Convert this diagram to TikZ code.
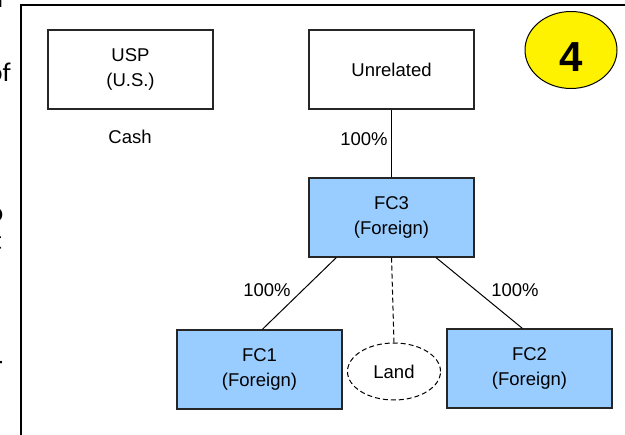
\documentclass[tikz,border=0pt]{standalone}
\usepackage{fontspec}
\setmainfont{Liberation Sans}
\newfontfamily\slidefont{Carlito}
\usetikzlibrary{shapes.geometric}

\begin{document}
\begin{tikzpicture}[x=1pt, y=-1pt]
    % Styles
    \tikzstyle{entity}=[draw=black!85, line width=1.2pt, minimum width=165pt, minimum height=79pt, inner sep=0pt, align=center, font=\fontsize{18.5}{25}\selectfont]
    \tikzstyle{foreign}=[entity, fill=fcblue]
    \tikzstyle{asset}=[draw, dash pattern=on 5pt off 3pt, line width=1pt, ellipse, minimum width=93pt, minimum height=57pt, inner sep=0pt, font=\fontsize{18.5}{25}\selectfont]
    \tikzstyle{pct}=[font=\fontsize{18.5}{25}\selectfont]
    \tikzstyle{ownership}=[line width=1pt]
    \tikzstyle{holding}=[line width=1pt, dash pattern=on 5pt off 3pt]
    \tikzstyle{stepbadge}=[draw, line width=1pt, ellipse, fill=yellow, minimum width=92pt, minimum height=77pt, inner sep=0pt, text height=44pt, text depth=0pt, font=\fontsize{42}{42}\selectfont\bfseries]
    \tikzstyle{cutoff}=[anchor=base east, inner sep=0pt, font=\fontsize{27}{27}\slidefont]
    \definecolor{fcblue}{HTML}{99CCFF}

    \useasboundingbox (0,0) rectangle (625,435);

    % Slide text cut off at the left
    \node[cutoff] (frag_r) at (7,8) {r};
    \node[cutoff] (frag_of) at (11,82) {of};
    \node[cutoff] (frag_o) at (3.5,222) {o};
    \node[cutoff] (frag_t) at (2,250) {t};
    \node[cutoff] (frag_rr) at (3,375) {r};

    % Frame
    \draw[line width=2.5pt] (21,5) rectangle (640,450);

    % Entities
    \node[entity] (usp) at (130.5,69.5) {USP\\(U.S.)};
    \node[pct] (cash) at (130,137) {Cash};
    \node[entity] (unrelated) at (391.5,69.5) {Unrelated};
    \node[foreign] (fc3) at (391.5,217.5) {FC3\\(Foreign)};
    \node[foreign] (fc1) at (259.5,369.5) {FC1\\(Foreign)};
    \node[foreign] (fc2) at (529.5,368.5) {FC2\\(Foreign)};
    \node[asset] (land) at (394,371.5) {Land};

    % Step number
    \node[stepbadge] (badge) at (571,50) {4};

    % Ownership lines
    \draw[ownership] (unrelated.south) -- (fc3.north);
    \draw[ownership] (fc3.216) -- (fc1.86);
    \draw[ownership] (fc3.318) -- (fc2.100);
    \draw[holding] (fc3.south) -- (land.north);

    % Percentages
    \node[pct] (pct_top) at (364,139) {100\%};
    \node[pct] (pct_left) at (267,290) {100\%};
    \node[pct] (pct_right) at (515,290) {100\%};
\end{tikzpicture}
\end{document}
